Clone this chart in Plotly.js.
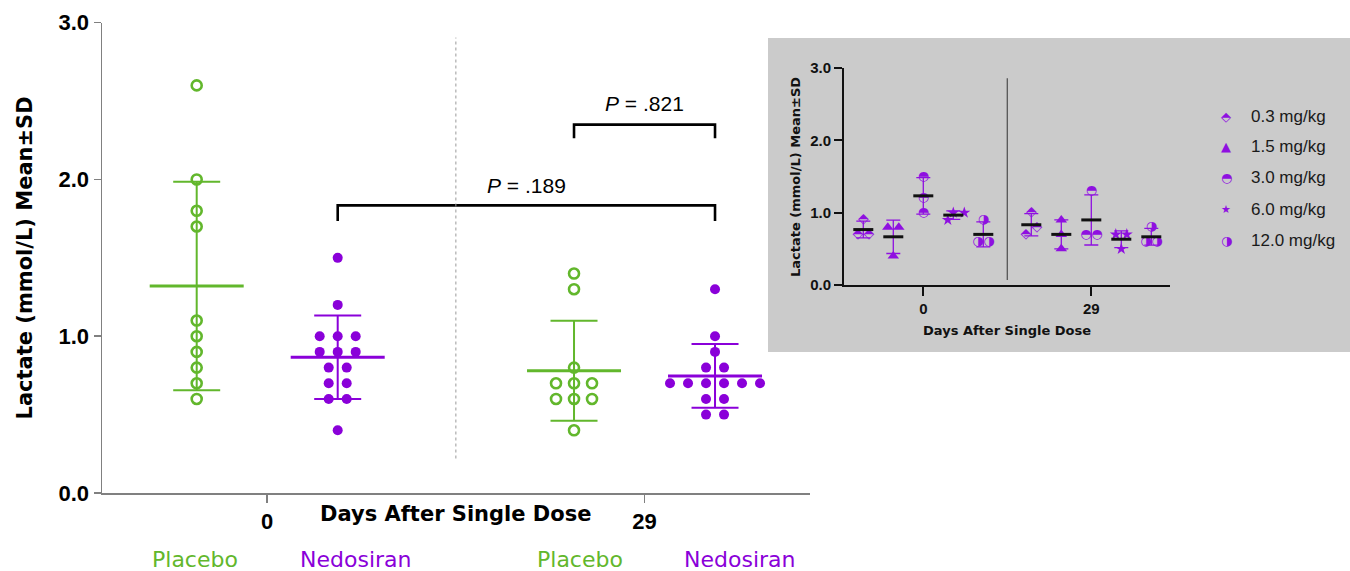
<!DOCTYPE html>
<html>
<head>
<meta charset="utf-8">
<script src="https://cdn.plot.ly/plotly-3.0.1.min.js"></script>
<style>html,body{margin:0;padding:0;background:#fff;}#chart{width:1350px;height:571px;}</style>
</head>
<body>
<div id="chart"></div>
<script>
// ---------- DATA ----------
const groupLabels = ['Placebo', 'Nedosiran', 'Placebo', 'Nedosiran'];
const dayLabels = ['0', '29'];
const placebo_day0 = [2.6, 2.0, 1.8, 1.7, 1.1, 1.0, 0.9, 0.8, 0.7, 0.6];
const nedosiran_day0 = [1.5, 1.2, 1.0, 1.0, 1.0, 0.9, 0.9, 0.9, 0.8, 0.8, 0.7, 0.7, 0.6, 0.6, 0.4];
const placebo_day29 = [1.4, 1.3, 0.8, 0.7, 0.7, 0.7, 0.6, 0.6, 0.6, 0.4];
const nedosiran_day29 = [1.3, 1.0, 0.9, 0.8, 0.8, 0.7, 0.7, 0.7, 0.7, 0.7, 0.7, 0.6, 0.6, 0.5, 0.5];
const pValues = ['.189', '.821'];

const doseLabels = ['0.3 mg/kg', '1.5 mg/kg', '3.0 mg/kg', '6.0 mg/kg', '12.0 mg/kg'];
const d03_day0 = [0.9, 0.7, 0.7];
const d15_day0 = [0.8, 0.8, 0.4];
const d30_day0 = [1.5, 1.2, 1.0];
const d60_day0 = [1.0, 1.0, 0.9];
const d120_day0 = [0.9, 0.6, 0.6];
const d03_day29 = [1.0, 0.8, 0.7];
const d15_day29 = [0.9, 0.7, 0.5];
const d30_day29 = [1.3, 0.7, 0.7];
const d60_day29 = [0.7, 0.7, 0.5];
const d120_day29 = [0.8, 0.6, 0.6];

// ---------- helpers ----------
const W = 1350, H = 571;
const PX = p => p / W;
const PY = p => 1 - p / H;
const mean = a => a.reduce((s, v) => s + v, 0) / a.length;
const sd = a => { const m = mean(a); return Math.sqrt(a.reduce((s, v) => s + (v - m) * (v - m), 0) / (a.length - 1)); };
const LINE_EW = 1.4; // plotly draws line-ew markers 1.4x their size

// beeswarm offsets (x units): equal values in a centered row; colliding rows are nudged apart
function swarm(vals, pxPerX, pxPerY, d, dia) {
  const uniq = [...new Set(vals)].sort((a, b) => b - a);
  const shift = {};
  uniq.forEach(v => shift[v] = 0);
  for (let i = 1; i < uniq.length; i++) {
    if ((uniq[i - 1] - uniq[i]) * pxPerY < dia - 1e-6) {
      if (shift[uniq[i - 1]] === 0) shift[uniq[i - 1]] = d / 2;
      shift[uniq[i]] = -d / 2;
    }
  }
  const count = {}, seen = {};
  vals.forEach(v => count[v] = (count[v] || 0) + 1);
  return vals.map(v => {
    const k = seen[v] || 0; seen[v] = k + 1;
    return ((k - (count[v] - 1) / 2) * d + shift[v]) / pxPerX;
  });
}

const GREEN = '#62b72c', PURPLE = '#8a00d9', IPURPLE = '#8f10e0';
const ARIAL = 'Liberation Sans, Arial, sans-serif';
const DJV = 'DejaVu Sans, sans-serif';

// ---------- main chart geometry ----------
const M_UNIT = 141;            // px per x unit
const M_LEFT = 102, M_RIGHT = 809.5, M_ORIGIN = 196.7;
const M_TOP = 22.7, M_BOTTOM = 493;
const M_YPX = (M_BOTTOM - M_TOP) / 3;
const G = [0, 1, 2.676, 3.676];
const dayTicks = [(G[0] + G[1]) / 2, (G[2] + G[3]) / 2];

const mainSeries = [placebo_day0, nedosiran_day0, placebo_day29, nedosiran_day29];
const mainColors = [GREEN, PURPLE, GREEN, PURPLE];
const traces = [];

mainSeries.forEach((vals, k) => {
  const c = mainColors[k];
  traces.push({
    type: 'scatter', mode: 'markers', x: [G[k]], y: [mean(vals)], xaxis: 'x', yaxis: 'y',
    marker: { symbol: 'line-ew', size: 94 / LINE_EW, color: c, line: { color: c, width: 3 } },
    error_y: { type: 'data', array: [sd(vals)], visible: true, color: c, thickness: 2, width: 23.5 },
    hoverinfo: 'skip', cliponaxis: false
  });
});
mainSeries.forEach((vals, k) => {
  const c = mainColors[k];
  const off = swarm(vals, M_UNIT, M_YPX, 18, 12);
  const open = (k % 2 === 0);
  traces.push({
    type: 'scatter', mode: 'markers', x: off.map(o => G[k] + o), y: vals, xaxis: 'x', yaxis: 'y',
    marker: open ? { symbol: 'circle-open', size: 10, color: c, line: { color: c, width: 2.6 } }
                 : { symbol: 'circle', size: 10, color: c, line: { width: 0 } },
    hoverinfo: 'skip', cliponaxis: false
  });
});

// ---------- inset geometry ----------
const I_UNIT = 30, I_LEFT = 844, I_RIGHT = 1170, I_ORIGIN = 863.3;
const I_BOTTOM = 285, I_YPX = 72.3;
const I_DAY29 = 5.6;
const insetDay0 = [d03_day0, d15_day0, d30_day0, d60_day0, d120_day0];
const insetDay29 = [d03_day29, d15_day29, d30_day29, d60_day29, d120_day29];
const glyphs = ['\u2B18', null, '\u25D3', null, '\u25D1'];
const symbols = [null, 'triangle-up', null, 'star', null];
const glyphSize = [14, 0, 13, 0, 13];
const symSize = [0, 10, 0, 9, 0];

function insetPoints(vals, i, base) {
  const off = swarm(vals, I_UNIT, I_YPX, 11, 9);
  const x = off.map(o => base + i + o);
  if (glyphs[i]) {
    return { type: 'scatter', mode: 'text', x: x, y: vals, xaxis: 'x2', yaxis: 'y2',
      text: vals.map(() => glyphs[i]), textposition: 'middle center',
      textfont: { family: DJV, size: glyphSize[i], color: IPURPLE }, hoverinfo: 'skip', cliponaxis: false };
  }
  return { type: 'scatter', mode: 'markers', x: x, y: vals, xaxis: 'x2', yaxis: 'y2',
    marker: { symbol: symbols[i], size: symSize[i], color: IPURPLE, line: { width: 0 } }, hoverinfo: 'skip', cliponaxis: false };
}
function insetSummary(vals, i, base) {
  return { type: 'scatter', mode: 'markers', x: [base + i], y: [mean(vals)], xaxis: 'x2', yaxis: 'y2',
    marker: { symbol: 'line-ew', size: 20 / LINE_EW, color: '#111', line: { color: '#111', width: 3 } },
    error_y: { type: 'data', array: [sd(vals)], visible: true, color: IPURPLE, thickness: 1.3, width: 7 },
    hoverinfo: 'skip', cliponaxis: false };
}
insetDay0.forEach((v, i) => traces.push(insetPoints(v, i, 0)));
insetDay29.forEach((v, i) => traces.push(insetPoints(v, i, I_DAY29)));
insetDay0.forEach((v, i) => traces.push(insetSummary(v, i, 0)));
insetDay29.forEach((v, i) => traces.push(insetSummary(v, i, I_DAY29)));

// ---------- annotations ----------
const ann = [];
ann.push({ xref: 'paper', yref: 'paper', x: PX(24), y: PY(258.5), text: '<b>Lactate (mmol/L) Mean\u00B1SD</b>',
  textangle: -90, showarrow: false, font: { family: DJV, size: 21, color: '#000' }, xanchor: 'center', yanchor: 'middle' });
ann.push({ xref: 'paper', yref: 'paper', x: PX(455.5), y: PY(514), text: '<b>Days After Single Dose</b>',
  showarrow: false, font: { family: DJV, size: 21, color: '#000' }, xanchor: 'center', yanchor: 'middle' });
const catX = [195, 355, 580, 739.5];
groupLabels.forEach((t, k) => ann.push({ xref: 'paper', yref: 'paper', x: PX(catX[k]), y: PY(559), text: t,
  showarrow: false, font: { family: DJV, size: 22, color: mainColors[k] }, xanchor: 'center', yanchor: 'middle' }));

// significance brackets
const br = [
  { a: G[1], b: G[3], top: 1.835, leg: 1.735, ty: 1.964, p: pValues[0] },
  { a: G[2], b: G[3], top: 2.35, leg: 2.263, ty: 2.482, p: pValues[1] }
];
const shapes = [];
br.forEach(o => {
  shapes.push({ type: 'path', xref: 'x', yref: 'y', path: `M ${o.a},${o.leg} L ${o.a},${o.top} L ${o.b},${o.top} L ${o.b},${o.leg}`,
    line: { color: '#000', width: 2.6 } });
  ann.push({ xref: 'x', yref: 'y', x: (o.a + o.b) / 2, y: o.ty, text: '<i>P</i> = ' + o.p, showarrow: false,
    font: { family: ARIAL, size: 21, color: '#000' }, xanchor: 'center', yanchor: 'middle' });
});
// main divider (dotted)
shapes.push({ type: 'line', xref: 'x', yref: 'y', x0: (G[1] + G[2]) / 2, x1: (G[1] + G[2]) / 2, y0: 0.22, y1: 2.905,
  line: { color: '#9a9a9a', width: 1, dash: 'dot' } });
// inset background
shapes.push({ type: 'rect', xref: 'paper', yref: 'paper', x0: PX(768), x1: 1, y0: PY(352), y1: PY(38),
  fillcolor: '#cbcbcb', line: { width: 0 }, layer: 'below' });
// inset divider
shapes.push({ type: 'line', xref: 'x2', yref: 'y2', x0: (2 + I_DAY29 + 2) / 2, x1: (2 + I_DAY29 + 2) / 2, y0: 0.07, y1: 2.86,
  line: { color: '#555', width: 1.3 } });

// inset titles
ann.push({ xref: 'paper', yref: 'paper', x: PX(795), y: PY(177), text: '<b>Lactate (mmol/L) Mean\u00B1SD</b>',
  textangle: -90, showarrow: false, font: { family: DJV, size: 13, color: '#111' }, xanchor: 'center', yanchor: 'middle' });
ann.push({ xref: 'paper', yref: 'paper', x: PX((I_LEFT + I_RIGHT) / 2), y: PY(330), text: '<b>Days After Single Dose</b>',
  showarrow: false, font: { family: DJV, size: 13, color: '#111' }, xanchor: 'center', yanchor: 'middle' });
// inset legend
const legGlyph = ['\u2B18', '\u25B2', '\u25D3', '\u2605', '\u25D1'];
const legY = [116.7, 146.7, 177.7, 209.3, 240];
doseLabels.forEach((t, i) => {
  ann.push({ xref: 'paper', yref: 'paper', x: PX(1226), y: PY(legY[i]), text: legGlyph[i], showarrow: false,
    font: { family: DJV, size: (i === 3 ? 11 : 13), color: IPURPLE }, xanchor: 'center', yanchor: 'middle' });
  ann.push({ xref: 'paper', yref: 'paper', x: PX(1249), y: PY(legY[i]), text: t, showarrow: false,
    font: { family: ARIAL, size: 17, color: '#1a1a1a' }, xanchor: 'left', yanchor: 'middle' });
});

const layout = {
  width: W, height: H, margin: { l: 0, r: 0, t: 0, b: 0 },
  paper_bgcolor: '#ffffff', plot_bgcolor: 'rgba(0,0,0,0)', showlegend: false,
  xaxis: { domain: [PX(M_LEFT), PX(M_RIGHT)], range: [(M_LEFT - M_ORIGIN) / M_UNIT, (M_RIGHT - M_ORIGIN) / M_UNIT],
    showline: true, linecolor: '#808080', linewidth: 1.5, ticks: 'outside', ticklen: 8, tickwidth: 1.5, tickcolor: '#808080',
    tickvals: dayTicks, ticktext: dayLabels, tickfont: { family: ARIAL, size: 22, color: '#000', weight: 'bold' },
    showgrid: false, zeroline: false, fixedrange: true },
  yaxis: { domain: [PY(M_BOTTOM), PY(M_TOP)], range: [0, 3], showline: true, linecolor: '#808080', linewidth: 1.5,
    ticks: 'outside', ticklen: 7, tickwidth: 1.5, tickcolor: '#808080', tickvals: [0, 1, 2, 3], tickformat: '.1f',
    tickfont: { family: ARIAL, size: 22, color: '#000', weight: 'bold' }, showgrid: false, zeroline: false, fixedrange: true },
  xaxis2: { domain: [PX(I_LEFT), PX(I_RIGHT)], anchor: 'y2', range: [(I_LEFT - I_ORIGIN) / I_UNIT, (I_RIGHT - I_ORIGIN) / I_UNIT],
    showline: true, linecolor: '#111', linewidth: 2, ticks: 'outside', ticklen: 9, tickwidth: 2, tickcolor: '#111',
    tickvals: [2, I_DAY29 + 2], ticktext: dayLabels, tickfont: { family: ARIAL, size: 15, color: '#111', weight: 'bold' },
    showgrid: false, zeroline: false, fixedrange: true },
  yaxis2: { domain: [PY(I_BOTTOM), PY(I_BOTTOM - 3 * I_YPX)], anchor: 'x2', range: [0, 3], showline: true, linecolor: '#111', linewidth: 2,
    ticks: 'outside', ticklen: 8, tickwidth: 2, tickcolor: '#111', tickvals: [0, 1, 2, 3], tickformat: '.1f',
    tickfont: { family: ARIAL, size: 15, color: '#111', weight: 'bold' }, showgrid: false, zeroline: false, fixedrange: true },
  shapes: shapes, annotations: ann
};

Plotly.newPlot('chart', traces, layout, { displayModeBar: false, staticPlot: true });
</script>
</body>
</html>
